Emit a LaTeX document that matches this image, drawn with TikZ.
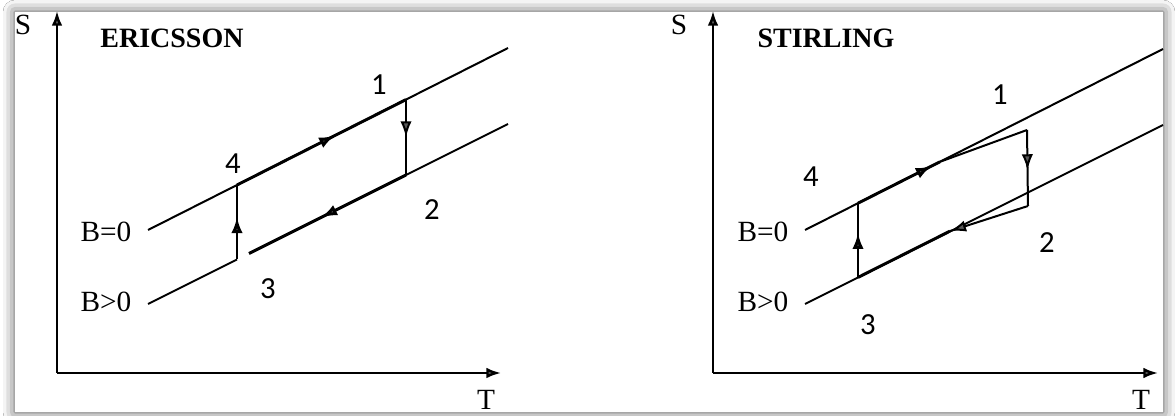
\documentclass[tikz,border=0pt]{standalone}
\usepackage{fontspec}
\setmainfont{Liberation Serif}
\newfontfamily\calfont{Carlito}
\usetikzlibrary{arrows.meta,decorations.markings,shadows.blur}

\begin{document}
\begin{tikzpicture}[
		x=0.75pt, y=-0.75pt,
		axis/.style={line width=1.8pt, -{Latex[length=11pt,width=8pt]}},
		field/.style={line width=1.5pt},
		loopline/.style={line width=2.2pt},
		midarrow/.style={
			postaction={decorate},
			decoration={markings,
				mark=at position #1 with {\arrow{Latex[length=12pt,width=8.5pt]}}}
		},
		axlabel/.style={font=\fontsize{22}{24}\selectfont},
		title/.style={font=\fontsize{21}{24}\selectfont\bfseries},
		fieldlabel/.style={font=\fontsize{22}{24}\selectfont},
		statenum/.style={font=\calfont\fontsize{23}{26}\selectfont}
	]
	\useasboundingbox (0,0) rectangle (1175,416);
	\fill[white] (0,0) rectangle (1175,416);
	\fill[white, blur shadow={shadow xshift=0pt, shadow yshift=0pt,
		shadow blur radius=9pt, shadow opacity=70}]
		(15,12) rectangle (1163,412);

	% Ericsson cycle
	\coordinate (e-orig) at (57,373);
	\coordinate (e-ytop) at (57,11);
	\coordinate (e-xend) at (501,373);
	\draw[axis] (e-orig) -- (e-ytop);
	\draw[axis] (e-orig) -- (e-xend);
	\node[axlabel] (e-s) at (23,25) {S};
	\node[axlabel] (e-t) at (486,400) {T};
	\node[title] (e-title) at (172,38) {ERICSSON};
	\node[fieldlabel] (e-b0) at (106,232) {B=0};
	\node[fieldlabel] (e-b1) at (106,302) {B>0};

	\coordinate (e-u0) at (148,230);
	\coordinate (e-u1) at (508,48);
	\coordinate (e-l0) at (148,304);
	\coordinate (e-l1) at (508,124);
	\coordinate (e-p4) at (237,185);
	\coordinate (e-p1) at (406,99.6);
	\coordinate (e-p3) at (237,259.5);
	\coordinate (e-p2) at (406,175);
	\coordinate (e-gap) at (249,253.5);

	\draw[field] (e-u0) -- (e-u1);
	\draw[field] (e-l0) -- (e-p3);
	\draw[field] (e-gap) -- (e-l1);
	\draw[loopline, midarrow=0.58] (e-p4) -- (e-p1);
	\draw[field, midarrow=0.5] (e-p1) -- (e-p2);
	\draw[loopline, midarrow=0.54] (e-p2) -- (e-gap);
	\draw[loopline, midarrow=0.57] (e-p3) -- (e-p4);

	\node[statenum] (e-n1) at (379,85) {1};
	\node[statenum] (e-n2) at (432,210) {2};
	\node[statenum] (e-n3) at (268,289) {3};
	\node[statenum] (e-n4) at (233,164) {4};

	% Stirling cycle
	\coordinate (s-orig) at (713,373);
	\coordinate (s-ytop) at (713,11);
	\coordinate (s-xend) at (1158,373);
	\draw[axis] (s-orig) -- (s-ytop);
	\draw[axis] (s-orig) -- (s-xend);
	\node[axlabel] (s-s) at (679,25) {S};
	\node[axlabel] (s-t) at (1141,400) {T};
	\node[title] (s-title) at (826,38) {STIRLING};
	\node[fieldlabel] (s-b0) at (763,232) {B=0};
	\node[fieldlabel] (s-b1) at (763,302) {B>0};

	\coordinate (s-u0) at (805,230);
	\coordinate (s-u1) at (1163,49);
	\coordinate (s-l0) at (805,304);
	\coordinate (s-l1) at (1163,125);
	\coordinate (s-p4) at (858,203.2);
	\coordinate (s-p3) at (858,277.4);
	\coordinate (s-j1) at (940,161.8);
	\coordinate (s-c1) at (1027,130);
	\coordinate (s-c2) at (1028,206);
	\coordinate (s-j2) at (950,231.1);

	\draw[field] (s-u0) -- (s-u1);
	\draw[field] (s-l0) -- (s-l1);
	\draw[loopline, midarrow=0.6] (s-p3) -- (s-p4);
	\draw[loopline, midarrow=0.9] (s-p4) -- (s-j1);
	\draw[field] (s-j1) -- (s-c1);
	\draw[field, midarrow=0.53] (s-c1) -- (s-c2);
	\draw[field, midarrow=1] (s-c2) -- (s-j2);
	\draw[loopline] (s-j2) -- (s-p3);

	\node[statenum] (s-n1) at (1000,95) {1};
	\node[statenum] (s-n2) at (1047,243) {2};
	\node[statenum] (s-n3) at (868,325) {3};
	\node[statenum] (s-n4) at (811,177) {4};
\end{tikzpicture}
\end{document}
